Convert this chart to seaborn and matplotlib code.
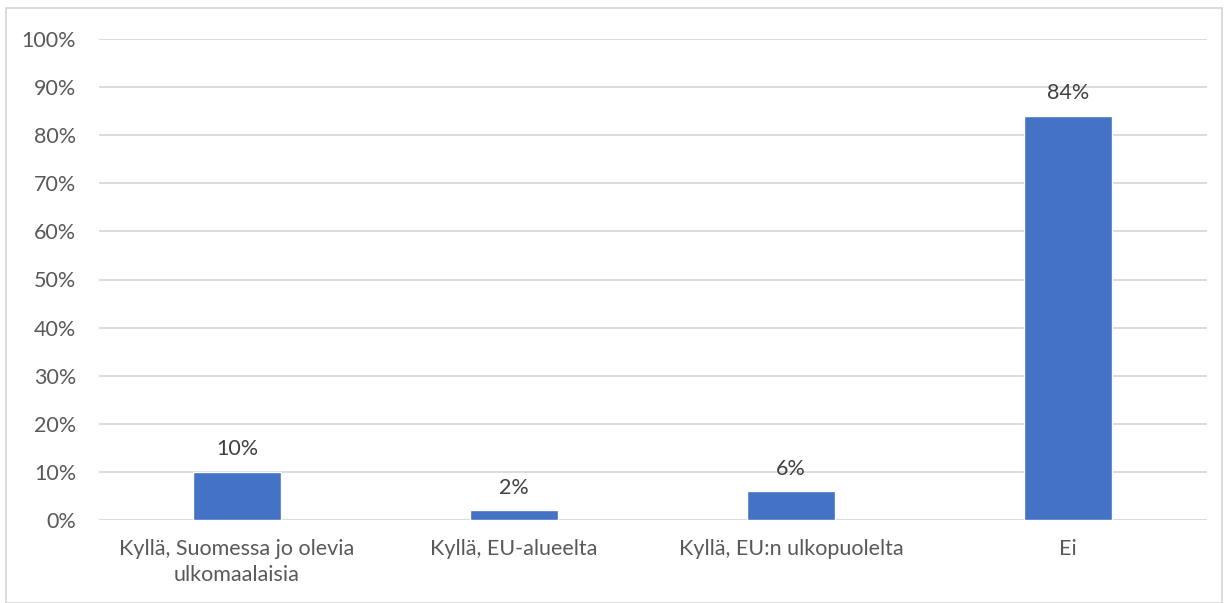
import matplotlib
matplotlib.use('Agg')
import matplotlib.pyplot as plt
import seaborn as sns
import pandas as pd
from matplotlib.patches import Rectangle

categories = ['Kyllä, Suomessa jo olevia\nulkomaalaisia', 'Kyllä, EU-alueelta',
              'Kyllä, EU:n ulkopuolelta', 'Ei']
values = [10, 2, 6, 84]
ytick_values = list(range(0, 101, 10))

df = pd.DataFrame({'Vastaus': categories, 'Osuus': values})

sns.set_style('white')
plt.rcParams['font.family'] = ['Lato', 'DejaVu Sans']
text_color = '#595959'

fig = plt.figure(figsize=(12.29, 6.03), dpi=100)
ax = fig.add_axes([98.5 / 1229, 83 / 603, 1108 / 1229, 481 / 603])

sns.barplot(data=df, x='Vastaus', y='Osuus', color='#4472C4', width=0.315,
            saturation=1, ax=ax, zorder=3)

ax.set_ylim(0, 100)
ax.set_xlim(-0.5, len(categories) - 0.5)
ax.set_yticks(ytick_values)
ax.set_yticklabels([f'{v}%' for v in ytick_values])
ax.yaxis.grid(True, color='#D9D9D9', linewidth=1.3, zorder=0)
ax.set_axisbelow(True)
for s in ax.spines.values():
    s.set_visible(False)
ax.tick_params(axis='both', length=0, labelsize=15.5, labelcolor=text_color)
ax.tick_params(axis='y', pad=16)
ax.tick_params(axis='x', pad=14)
for lbl in ax.get_xticklabels():
    lbl.set_linespacing(1.35)
ax.set_xlabel('')
ax.set_ylabel('')

for i, v in enumerate(values):
    ax.annotate(f'{v}%', (i, v), xytext=(0, 9), textcoords='offset points',
                ha='center', va='bottom', fontsize=15.5, color='#404040')

fig.patches.append(Rectangle((6 / 1229, 0), 1216 / 1229, 595 / 603, transform=fig.transFigure,
                             fill=False, edgecolor='#D9D9D9', linewidth=1.3))

fig.savefig('out.png', dpi=100)
